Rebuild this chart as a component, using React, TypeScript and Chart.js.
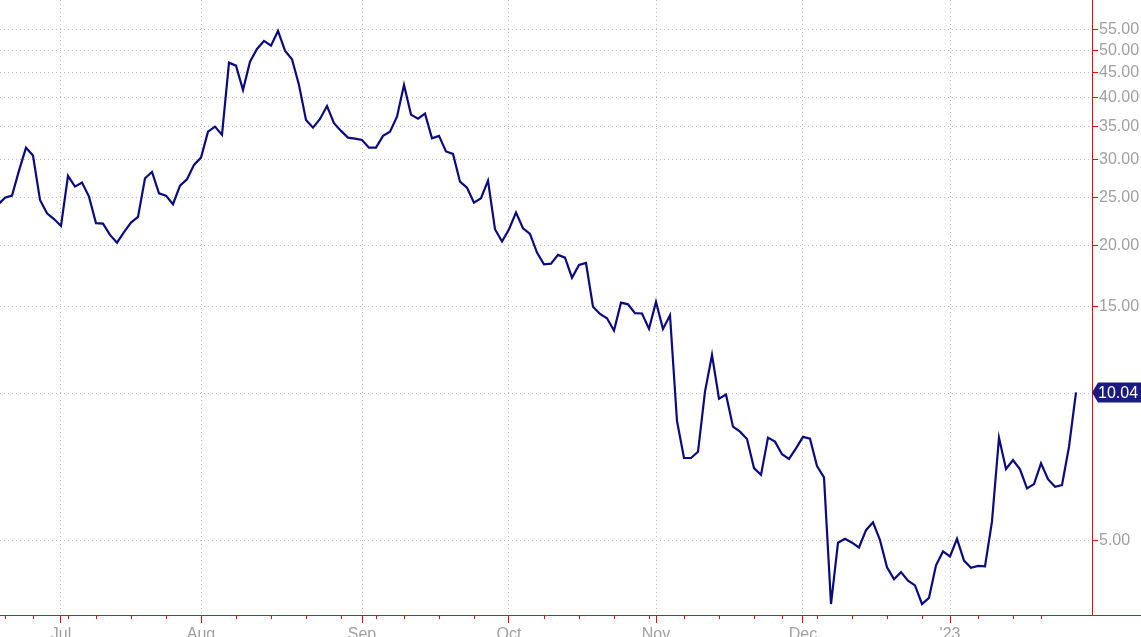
import React, { useEffect, useRef } from 'react';
import { Chart, registerables } from 'chart.js';

Chart.register(...registerables);

// Daily closes, one per trading day, Jun 17 2022 .. Jan 30 2023
const PRICES: number[] = [
  24.23, 25.04, 25.28, 28.43, 31.66, 30.50, 24.77, 23.27, 22.65, 21.93,
  27.73, 26.37, 26.87, 25.16, 22.21, 22.17, 21.02, 20.27, 21.31, 22.27,
  22.87, 27.43, 28.25, 25.56, 25.28, 24.28, 26.49, 27.30, 29.20, 30.22,
  34.13, 34.94, 33.61, 47.18, 46.52, 41.50, 47.40, 50.31, 52.24, 51.09,
  54.75, 49.90, 47.94, 42.49, 36.06, 34.78, 36.22, 38.50, 35.51, 34.25,
  33.19, 33.04, 32.83, 31.66, 31.66, 33.46, 34.13, 36.62, 42.49, 36.97,
  36.27, 37.14, 33.07, 33.46, 31.10, 30.74, 26.99, 26.24, 24.46, 24.97,
  27.12, 21.59, 20.37, 21.59, 23.34, 21.69, 21.12, 19.35, 18.32, 18.37,
  19.14, 18.90, 17.20, 18.26, 18.43, 15.01, 14.51, 14.22, 13.42, 15.30,
  15.18, 14.56, 14.54, 13.53, 15.35, 13.52, 14.42, 8.78, 7.38, 7.38,
  7.60, 10.08, 11.97, 9.75, 9.94, 8.55, 8.35, 8.07, 7.04, 6.82,
  8.12, 7.97, 7.51, 7.35, 7.72, 8.15, 8.08, 7.11, 6.74, 3.72,
  4.96, 5.05, 4.96, 4.85, 5.26, 5.46, 5.02, 4.42, 4.18, 4.32,
  4.15, 4.06, 3.72, 3.83, 4.46, 4.76, 4.65, 5.05, 4.56, 4.41,
  4.45, 4.44, 5.48, 8.12, 7.01, 7.31, 7.00, 6.40, 6.53, 7.20,
  6.68, 6.45, 6.50, 7.78, 10.04,
];

// trading-day indices of first session of each month
const MONTH_TICKS: number[] = [9, 29, 52, 73, 94, 115, 136];
const MONTH_LABELS: string[] = ['Jul', 'Aug', 'Sep', 'Oct', 'Nov', 'Dec', "'23"];
// trading-day indices of first session of each week
const WEEK_TICKS: number[] = [
  1, 5, 10, 14, 19, 24, 34, 39, 44, 49, 54, 58, 63, 68, 78, 83, 88, 93,
  98, 103, 108, 112, 117, 122, 127, 132, 140, 145, 149,
];
const Y_TICKS: number[] = [5, 10, 15, 20, 25, 30, 35, 40, 45, 50, 55];
const Y_MIN = 3.533;
const Y_MAX = 63.3;
const X_MIN = 2 / 7;
const X_MAX = 1094 / 7;

const RED = '#ff0000';
const NAVY = '#0b0b80';
const GRID = '#bdbdbd';
const LABEL = '#a0a0a0';
const FONT = '"Liberation Sans", Arial, sans-serif';

const extrasPlugin = {
  id: 'extras',
  afterDraw(chart: any) {
    const { ctx, chartArea, scales } = chart;
    const xs = scales.x;
    const ys = scales.y;
    ctx.save();
    // extend x-axis line to right edge
    ctx.strokeStyle = RED;
    ctx.lineWidth = 1;
    ctx.beginPath();
    ctx.moveTo(chartArea.right, chartArea.bottom + 0.5);
    ctx.lineTo(chart.width, chartArea.bottom + 0.5);
    ctx.stroke();
    // weekly minor ticks
    ctx.beginPath();
    WEEK_TICKS.forEach((w) => {
      const px = Math.round(xs.getPixelForValue(w)) + 0.5;
      ctx.moveTo(px, chartArea.bottom);
      ctx.lineTo(px, chartArea.bottom + 4);
    });
    ctx.stroke();
    // last price tag
    const last = PRICES[PRICES.length - 1];
    const py = ys.getPixelForValue(last);
    const x0 = chartArea.right;
    const h = 20;
    ctx.fillStyle = '#1a1a80';
    ctx.beginPath();
    ctx.moveTo(x0, py);
    ctx.lineTo(x0 + 6, py - h / 2);
    ctx.lineTo(chart.width, py - h / 2);
    ctx.lineTo(chart.width, py + h / 2);
    ctx.lineTo(x0 + 6, py + h / 2);
    ctx.closePath();
    ctx.fill();
    ctx.fillStyle = '#ffffff';
    ctx.font = `16px ${FONT}`;
    ctx.textAlign = 'left';
    ctx.textBaseline = 'middle';
    ctx.fillText(last.toFixed(2), x0 + 6, py + 1);
    ctx.restore();
  },
};

export default function App() {
  const ref = useRef<HTMLCanvasElement | null>(null);

  useEffect(() => {
    document.body.style.margin = '0';
    if (!ref.current) return;
    const chart = new Chart(ref.current, {
      type: 'line',
      data: {
        datasets: [
          {
            data: PRICES.map((p, i) => ({ x: i, y: p })),
            borderColor: NAVY,
            borderWidth: 2.2,
            pointRadius: 0,
            tension: 0,
            fill: false,
          },
        ],
      },
      options: {
        animation: false,
        responsive: true,
        maintainAspectRatio: false,
        layout: { padding: 0 },
        plugins: {
          legend: { display: false },
          tooltip: { enabled: false },
        },
        scales: {
          x: {
            type: 'linear',
            min: X_MIN,
            max: X_MAX,
            afterBuildTicks: (scale: any) => {
              scale.ticks = MONTH_TICKS.map((v) => ({ value: v }));
            },
            afterFit: (scale: any) => {
              scale.height = 22;
              scale.paddingLeft = 0;
              scale.paddingRight = 0;
            },
            ticks: {
              autoSkip: false,
              maxRotation: 0,
              padding: 2,
              color: LABEL,
              font: { family: FONT, size: 16 },
              callback: (_v: any, i: number) => MONTH_LABELS[i],
            },
            grid: {
              color: GRID,
              tickColor: RED,
              tickLength: 8,
              tickWidth: 1,
              tickBorderDash: [],
            },
            border: { color: RED, width: 1, dash: [1, 3] },
          },
          y: {
            type: 'logarithmic',
            position: 'right',
            min: Y_MIN,
            max: Y_MAX,
            afterBuildTicks: (scale: any) => {
              scale.ticks = Y_TICKS.map((v) => ({ value: v }));
            },
            afterFit: (scale: any) => {
              scale.width = 49;
              scale.paddingTop = 0;
              scale.paddingBottom = 0;
            },
            ticks: {
              padding: 1,
              color: LABEL,
              font: { family: FONT, size: 16 },
              callback: (v: any) => Number(v).toFixed(2),
            },
            grid: {
              color: GRID,
              tickColor: RED,
              tickLength: 6,
              tickWidth: 1,
              tickBorderDash: [],
            },
            border: { color: RED, width: 1, dash: [1, 3] },
          },
        },
      },
      plugins: [extrasPlugin],
    });
    return () => chart.destroy();
  }, []);

  return (
    <div style={{ position: 'absolute', left: 0, top: 0, width: 1141, height: 637 }}>
      <canvas ref={ref} />
    </div>
  );
}
